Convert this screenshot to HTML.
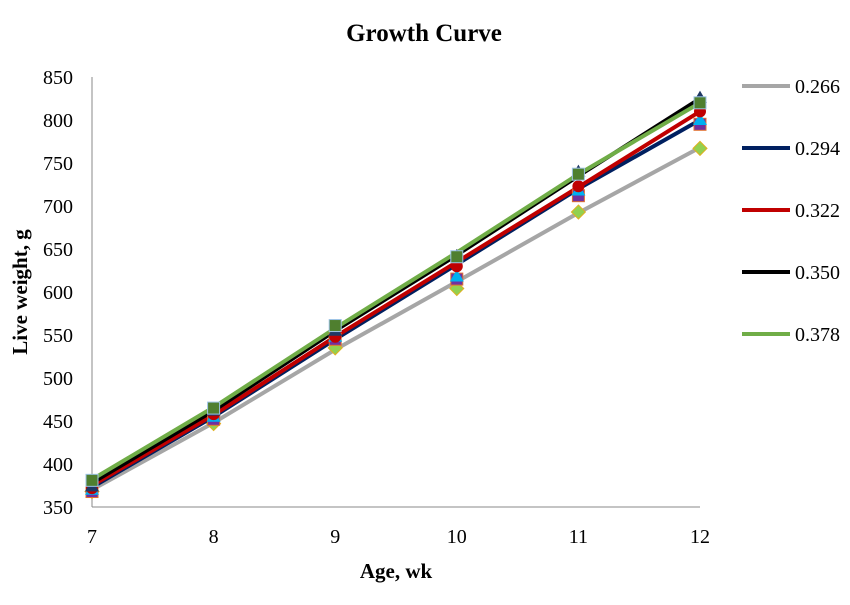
<!DOCTYPE html>
<html><head><meta charset="utf-8"><style>
body{margin:0;background:#fff;}
svg text{font-family:"Liberation Serif",serif;}
</style></head><body>
<svg id="chart" width="850" height="600" xmlns="http://www.w3.org/2000/svg">
<text x="424" y="41" text-anchor="middle" font-size="25" font-weight="bold">Growth Curve</text>
<text transform="translate(27,292) rotate(-90)" text-anchor="middle" font-size="21" font-weight="bold">Live weight, g</text>
<text x="396" y="578" text-anchor="middle" font-size="21" font-weight="bold">Age, wk</text>
<g id="axes"></g><g id="lines"></g><g id="markers"></g><g id="legend"></g>
</svg>
<script>
const ages=[7,8,9,10,11,12];
const yTicks=[350,400,450,500,550,600,650,700,750,800,850];
const seriesNames=["0.266","0.294","0.322","0.350","0.378"];
const seriesColors=["#a6a6a6","#002060","#c00000","#000000","#70ad47"];
const fit266=[370,448,533,612,692,768];
const fit294=[373,455,545,632,720,800];
const fit322=[375,457,548,635,722,810];
const fit350=[378,462,555,643,735,825];
const fit378=[382,466,558,646,737,820];
const obsDiamond=[368,447,535,604,693,767];
const obsPurple=[368,452,545,615,712,795];
const obsCyan=[370,455,548,618,718,800];
const obsRed=[372,458,548,630,723,810];
const obsNavy=[374,462,555,642,740,826];
const obsGreen=[381,465,561,641,737,820];
const fits=[fit266,fit294,fit322,fit350,fit378];
const X0=92,X1=700,Y0=507,Y1=77;
const xs=a=>X0+(a-7)/(12-7)*(X1-X0);
const ys=v=>Y0-(v-350)/(850-350)*(Y0-Y1);
const NS="http://www.w3.org/2000/svg";
function mk(tag,attrs,parent){const e=document.createElementNS(NS,tag);for(const k in attrs)e.setAttribute(k,attrs[k]);parent.appendChild(e);return e;}
const axes=document.getElementById('axes');
let ax=mk('line',{x1:X0,y1:Y1,x2:X0,y2:Y0,stroke:'#888','stroke-width':1},axes);


ax=mk('line',{x1:X0,y1:Y0,x2:X1,y2:Y0,stroke:'#888','stroke-width':1},axes);


yTicks.forEach(t=>{const e=mk('text',{x:73,y:ys(t)+7,'text-anchor':'end','font-size':20},axes);e.textContent=t;

});
ages.forEach(a=>{const e=mk('text',{x:xs(a),y:543,'text-anchor':'middle','font-size':20},axes);e.textContent=a;

});
const lines=document.getElementById('lines');
fits.forEach((f,i)=>{const e=mk('polyline',{points:f.map((v,j)=>xs(ages[j])+','+ys(v)).join(' '),fill:'none',stroke:seriesColors[i],'stroke-width':4},lines);

});
const mg=document.getElementById('markers');
ages.forEach((a,j)=>{
 const x=xs(a);
 let y=ys(obsDiamond[j]);let e=mk('polygon',{points:`${x},${y-7} ${x+7},${y} ${x},${y+7} ${x-7},${y}`,fill:'#92d050',stroke:'#e0b020','stroke-width':1},mg);
 
 
 y=ys(obsPurple[j]);e=mk('rect',{x:x-6,y:y-6,width:12,height:12,fill:'#7030a0',stroke:'#e07030','stroke-width':1},mg);
 
 
 y=ys(obsCyan[j]);e=mk('polygon',{points:`${x},${y-7} ${x+7},${y+5} ${x-7},${y+5}`,fill:'#00b0f0'},mg);
 
 
 y=ys(obsRed[j]);e=mk('circle',{cx:x,cy:y,r:6,fill:'#c00000'},mg);
 
 
 y=ys(obsNavy[j]);e=mk('polygon',{points:`${x},${y-7} ${x+7},${y+5} ${x-7},${y+5}`,fill:'#1f3864'},mg);
 
 
 y=ys(obsGreen[j]);e=mk('rect',{x:x-6,y:y-6,width:12,height:12,fill:'#4f7f2f',stroke:'#9dc3e6','stroke-width':1},mg);
 
 
});
const lg=document.getElementById('legend');
seriesNames.forEach((n,i)=>{const y=86+i*62;
 const g=mk('g',{},lg);
 
 
 mk('line',{x1:742,y1:y,x2:790,y2:y,stroke:seriesColors[i],'stroke-width':4},g);
 const t=mk('text',{x:795,y:y+7,'font-size':20},g);t.textContent=n;});
</script>
</body></html>
